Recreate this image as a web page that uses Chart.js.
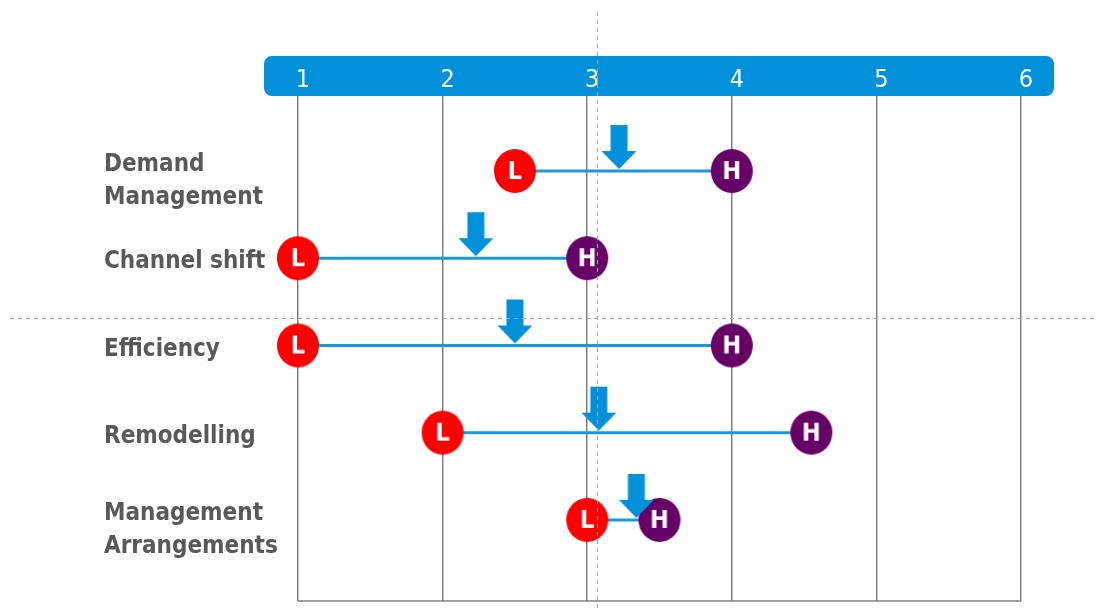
<!DOCTYPE html>
<html>
<head>
<meta charset="utf-8">
<script src="https://cdn.jsdelivr.net/npm/chart.js@4"></script>
<style>
  body { margin: 0; background: #fff; }
</style>
</head>
<body>
<canvas id="chart" width="1096" height="610"></canvas>
<script>
// Dados do gráfico
const rowLabels = [['Demand', 'Management'], ['Channel shift'], ['Efficiency'], ['Remodelling'], ['Management', 'Arrangements']];
const lowValues = [2.5, 1, 1, 2, 3];
const highValues = [4, 3, 4, 4.55, 3.5];
const arrowValues = [3.22, 2.23, 2.5, 3.08, 3.34];
const xTicks = [1, 2, 3, 4, 5, 6];
const dividerX = 3.07;     // linha tracejada vertical
const dividerRow = 1.68;   // linha tracejada horizontal

const FONT = "'DejaVu Sans Condensed', 'DejaVu Sans', sans-serif";
const BLUE = '#0091da';

// Marcadores L / H
function makeBadge(letter, color) {
  const c = document.createElement('canvas');
  c.width = 44; c.height = 46;
  const g = c.getContext('2d');
  g.fillStyle = color;
  g.beginPath(); g.ellipse(22, 23, 21, 22, 0, 0, Math.PI * 2); g.fill();
  g.fillStyle = '#fff';
  g.font = 'bold 25px ' + FONT;
  g.textAlign = 'center'; g.textBaseline = 'middle';
  g.fillText(letter, 22, 24);
  return c;
}
// Seta para baixo
function makeArrow() {
  const c = document.createElement('canvas');
  c.width = 36; c.height = 96;
  const g = c.getContext('2d');
  g.fillStyle = BLUE;
  g.beginPath();
  g.moveTo(9.5, 2); g.lineTo(26.5, 2); g.lineTo(26.5, 28); g.lineTo(35.5, 28);
  g.lineTo(18, 46); g.lineTo(0.5, 28); g.lineTo(9.5, 28);
  g.closePath(); g.fill();
  return c;
}
const lImg = makeBadge('L', '#ff0000');
const hImg = makeBadge('H', '#660066');
const arrowImg = makeArrow();

const pts = vals => vals.map((v, i) => ({ x: v, y: i }));

const decor = {
  id: 'decor',
  beforeDraw(chart) {
    const { ctx, chartArea: a } = chart;
    ctx.save();
    ctx.fillStyle = BLUE;
    ctx.beginPath();
    ctx.roundRect(a.left - 34, a.top - 40, a.right - a.left + 67, 40, 8);
    ctx.fill();
    ctx.restore();
  },
  beforeDatasetsDraw(chart) {
    const { ctx, chartArea: a, scales } = chart;
    ctx.save();
    ctx.strokeStyle = '#7f7f7f'; ctx.lineWidth = 1.5;
    ctx.beginPath(); ctx.moveTo(a.left, a.bottom); ctx.lineTo(a.right, a.bottom); ctx.stroke();
    // rótulos das linhas
    ctx.fillStyle = '#595959';
    ctx.font = 'bold 24px ' + FONT;
    ctx.textAlign = 'left'; ctx.textBaseline = 'middle';
    const lh = 33;
    rowLabels.forEach((lines, i) => {
      const cy = scales.y.getPixelForValue(i) + 4 + (lines.length - 1) * 6;
      lines.forEach((t, k) => {
        ctx.fillText(t, a.left - 194, cy + (k - (lines.length - 1) / 2) * lh);
      });
    });
    ctx.restore();
  },
  afterDatasetsDraw(chart) {
    const { ctx, scales } = chart;
    const px = Math.round(scales.x.getPixelForValue(dividerX)) + 0.5;
    const py = Math.round(scales.y.getPixelForValue(dividerRow)) + 0.5;
    ctx.save();
    ctx.strokeStyle = '#a6a6a6'; ctx.lineWidth = 1; ctx.setLineDash([4, 4]);
    ctx.beginPath(); ctx.moveTo(px, 12); ctx.lineTo(px, chart.height); ctx.stroke();
    ctx.beginPath(); ctx.moveTo(10, py); ctx.lineTo(chart.width, py); ctx.stroke();
    ctx.restore();
  }
};

new Chart(document.getElementById('chart'), {
  type: 'scatter',
  data: {
    datasets: [
      { data: pts(arrowValues), pointStyle: arrowImg, pointRadius: 10, clip: false },
      { data: pts(highValues), pointStyle: hImg, pointRadius: 20, clip: false },
      { data: pts(lowValues), pointStyle: lImg, pointRadius: 20, clip: false },
      ...rowLabels.map((r, i) => ({
        data: [{ x: lowValues[i], y: i }, { x: highValues[i], y: i }],
        showLine: true, borderColor: '#1a98d8', borderWidth: 3, pointRadius: 0
      }))
    ]
  },
  options: {
    responsive: false,
    animation: false,
    events: [],
    layout: { autoPadding: false, padding: { left: 298, right: 75, top: 56, bottom: 9 } },
    plugins: { legend: { display: false }, tooltip: { enabled: false } },
    scales: {
      x: {
        type: 'linear', position: 'top', min: 1, max: 6,
        afterBuildTicks: s => { s.ticks = xTicks.map(v => ({ value: v })); },
        afterFit: s => { s.height = 40; s.paddingLeft = 0; s.paddingRight = 0; },
        grid: { color: '#7f7f7f', lineWidth: 1.5, drawTicks: false },
        border: { display: false },
        ticks: { color: '#fff', font: { family: FONT, size: 25 }, padding: 1, labelOffset: 5 }
      },
      y: {
        type: 'linear', display: false, reverse: true, min: -0.86, max: 4.93
      }
    }
  },
  plugins: [decor]
});
</script>
</body>
</html>
